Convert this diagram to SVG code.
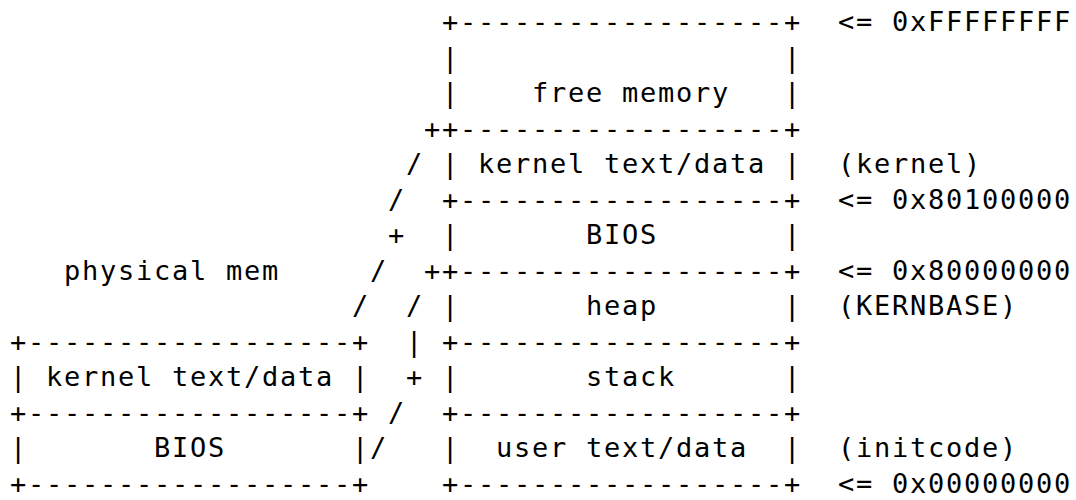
<svg xmlns="http://www.w3.org/2000/svg" width="1076" height="500" viewBox="0 0 1076 500">
<style>
text{font-family:"DejaVu Sans Mono","Liberation Mono",monospace;font-size:27px;letter-spacing:1.74px;fill:#000;white-space:pre}
</style>
<rect width="1076" height="500" fill="#fff"/>
<g id="virtual-memory">
<text x="442" y="31" xml:space="preserve">+------------------+</text>
<text x="442" y="66.5" xml:space="preserve">|                  |</text>
<text x="442" y="102" xml:space="preserve">|    free memory   |</text>
<text x="424" y="137.5" xml:space="preserve">++------------------+</text>
<text x="442" y="173" xml:space="preserve">| kernel text/data |</text>
<text x="442" y="208.5" xml:space="preserve">+------------------+</text>
<text x="442" y="244" xml:space="preserve">|       BIOS       |</text>
<text x="424" y="279.5" xml:space="preserve">++------------------+</text>
<text x="442" y="315" xml:space="preserve">|       heap       |</text>
<text x="442" y="350.5" xml:space="preserve">+------------------+</text>
<text x="442" y="386" xml:space="preserve">|       stack      |</text>
<text x="442" y="421.5" xml:space="preserve">+------------------+</text>
<text x="442" y="457" xml:space="preserve">|  user text/data  |</text>
<text x="442" y="492.5" xml:space="preserve">+------------------+</text>
</g>
<g id="address-labels">
<text x="838" y="31">&lt;= 0xFFFFFFFF</text>
<text x="838" y="173">(kernel)</text>
<text x="838" y="208.5">&lt;= 0x80100000</text>
<text x="838" y="279.5">&lt;= 0x80000000</text>
<text x="838" y="315">(KERNBASE)</text>
<text x="838" y="457">(initcode)</text>
<text x="838" y="492.5">&lt;= 0x00000000</text>
</g>
<g id="physical-memory">
<text x="64" y="279.5">physical mem</text>
<text x="10" y="350.5" xml:space="preserve">+------------------+</text>
<text x="10" y="386" xml:space="preserve">| kernel text/data |</text>
<text x="10" y="421.5" xml:space="preserve">+------------------+</text>
<text x="10" y="457" xml:space="preserve">|       BIOS       |</text>
<text x="10" y="492.5" xml:space="preserve">+------------------+</text>
</g>
<g id="connectors">
<text x="406" y="173">/</text>
<text x="388" y="208.5">/</text>
<text x="388" y="244">+</text>
<text x="370" y="279.5">/</text>
<text x="352" y="315">/</text>
<text x="406" y="315">/</text>
<text x="406" y="350.5">|</text>
<text x="406" y="386">+</text>
<text x="388" y="421.5">/</text>
<text x="370" y="457">/</text>
</g>
</svg>
